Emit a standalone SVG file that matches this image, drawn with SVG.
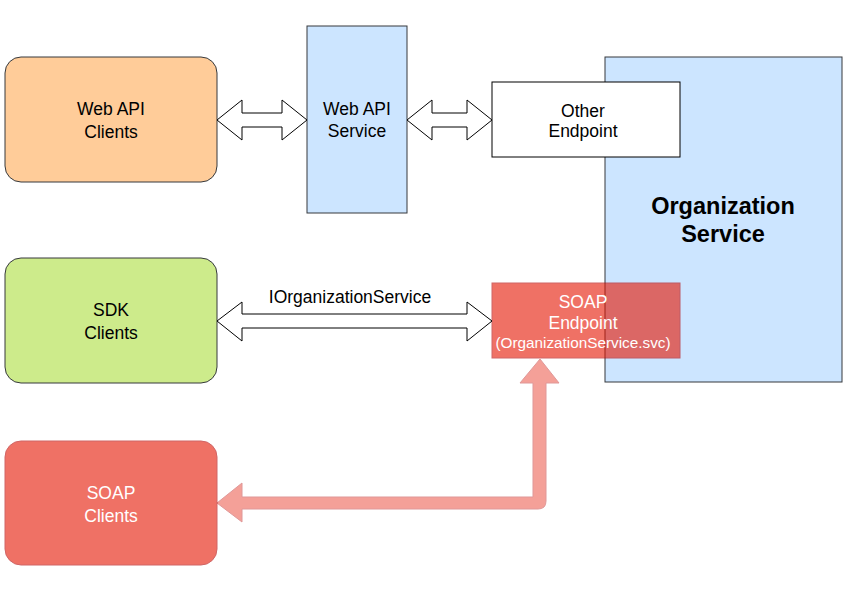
<svg xmlns="http://www.w3.org/2000/svg" width="848" height="590" viewBox="0 0 848 590">
<style>
text{font-family:"Liberation Sans",Arial,sans-serif;font-size:17.5px;text-anchor:middle;fill:#000}
.w{fill:#fff}
.dbl{fill:#fff;stroke:#000;stroke-width:1}
.blue{fill:#cce5ff;stroke:#36393d}
.red{fill:#e51400;stroke:#b20000;opacity:0.6}
</style>
<rect width="848" height="590" fill="#fff"/>
<g id="org-service">
<rect class="blue" x="605" y="57" width="237" height="325"/>
<text x="723" y="214" style="font-size:23.5px;font-weight:bold">Organization</text>
<text x="723" y="242" style="font-size:23.5px;font-weight:bold">Service</text>
</g>
<g id="web-api-clients">
<rect x="5" y="57" width="212" height="125" rx="16" fill="#ffcc99" stroke="#36393d"/>
<text x="111" y="115">Web API</text>
<text x="111" y="138">Clients</text>
</g>
<g id="web-api-service">
<rect class="blue" x="307" y="26" width="100" height="187"/>
<text x="357" y="115">Web API</text>
<text x="357" y="137">Service</text>
</g>
<g id="other-endpoint">
<rect x="492" y="82" width="188" height="75" fill="#fff" stroke="#000"/>
<text x="583" y="117">Other</text>
<text x="583" y="137">Endpoint</text>
</g>
<g id="sdk-clients">
<rect x="5" y="258" width="212" height="125" rx="16" fill="#cdeb8b" stroke="#36393d"/>
<text x="111" y="316">SDK</text>
<text x="111" y="339">Clients</text>
</g>
<g id="soap-endpoint">
<rect class="red" x="492" y="283" width="188" height="75"/>
<text class="w" x="583" y="308">SOAP</text>
<text class="w" x="583" y="329">Endpoint</text>
<text class="w" x="583" y="348" style="font-size:15.3px">(OrganizationService.svc)</text>
</g>
<g id="soap-clients">
<rect class="red" x="5" y="441" width="212" height="124" rx="16"/>
<text class="w" x="111" y="499">SOAP</text>
<text class="w" x="111" y="522">Clients</text>
</g>
<g id="connectors">
<path class="dbl" d="M217,120 L242,100 L242,113 L282,113 L282,100 L307,120 L282,140 L282,127 L242,127 L242,140 Z"/>
<path class="dbl" d="M407,120 L432,100 L432,113 L467,113 L467,100 L492,120 L467,140 L467,127 L432,127 L432,140 Z"/>
<path class="dbl" d="M217,321 L242,302 L242,314 L467,314 L467,302 L492,321 L467,341 L467,328 L242,328 L242,341 Z"/>
<text x="350" y="303">IOrganizationService</text>
<path d="M217,503 L242,483 L242,497 L533,497 L533,383 L520,383 L540,359 L559,383 L546,383 L546,501 Q546,509 538,509 L242,509 L242,522 Z" fill="#e51400" stroke="#b20000" opacity="0.4"/>
</g>
</svg>
